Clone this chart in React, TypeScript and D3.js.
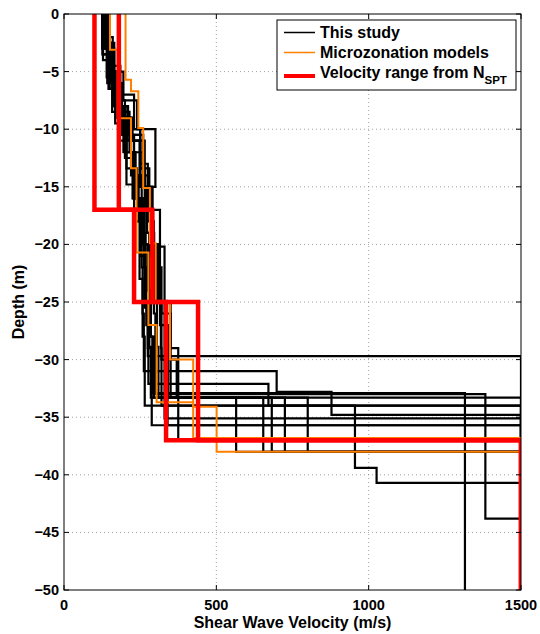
import React from 'react';
import * as d3 from 'd3';

// ---- Data ----
const xTicks = [0, 500, 1000, 1500];
const yTicks = [0, -5, -10, -15, -20, -25, -30, -35, -40, -45, -50];
const xGrid = [500, 1000];
const yGrid = [-5, -10, -15, -20, -25, -30, -35, -40, -45];

// Velocity range from N_SPT (layer bottoms in m, Vs in m/s)
const redMinDepths = [17, 25, 37, 50];
const redMinVs = [100, 230, 335, 1500];
const redMaxDepths = [17, 25, 37, 50];
const redMaxVs = [180, 290, 440, 1500];

// Microzonation models
const orangeADepths = [3.1, 9.06, 13.4, 20.7, 27.0, 33.7, 34.1, 38.0, 50];
const orangeAVs = [151, 176, 220, 238, 277, 304, 424, 501, 1500];
const orangeBDepths = [5.7, 6.7, 9.9, 15.1, 19.9, 25, 30, 36.8, 50];
const orangeBVs = [202, 220, 244, 260, 282, 301, 348, 424, 1500];

// This study: layer bottoms (m)
const studyDepths = [
  [2.5, 4.5, 7, 9.5, 12, 16, 21, 25.5, 29.7, 50],
  [3, 5.5, 8, 10.5, 14, 18, 22, 26, 31, 32.8, 34.8, 50],
  [2, 5, 7.5, 10, 13.4, 17, 22, 27, 32.1, 34, 50],
  [3, 6, 8.5, 11, 15, 19, 24, 28, 32.9, 50],
  [2.8, 5.9, 8, 10.5, 13.4, 17, 21, 26, 33, 43.8, 50],
  [4, 6.5, 9, 12, 16, 20, 25, 29, 33.3, 38, 50],
  [3, 6, 9, 11, 15, 20.2, 25, 28.9, 33.3, 38, 50],
  [2.5, 5, 8, 10, 15, 20, 24, 29, 34, 39.4, 40.7, 50],
  [3.5, 6, 8.5, 11, 14.8, 18, 23, 28, 34, 50],
  [2, 4.5, 7, 10, 13, 17, 20.2, 25, 30, 35.1, 50],
  [3, 5.9, 8, 10.5, 14, 19, 24, 28.9, 35.7, 50],
  [2.5, 5, 7.5, 10, 13.4, 17, 20.2, 25, 30, 35.7, 50],
  [3, 6, 9, 12, 16, 20, 25, 30, 33.3, 38, 50],
  [2.8, 5.5, 8, 10.5, 14, 18, 22, 26, 30, 33.3, 38, 50],
  [3, 6, 9, 12, 15, 20, 25, 29, 37, 50],
  [2.5, 5, 8, 11, 15, 19, 23, 27, 33.3, 38, 50],
  [3.5, 6.5, 9.5, 12.5, 16, 20, 24, 28, 33.3, 50],
];
// This study: layer velocities (m/s)
const studyVs = [
  [130, 145, 160, 185, 215, 235, 250, 265, 275, 1500],
  [125, 140, 165, 190, 230, 245, 255, 258, 262, 698, 878, 1500],
  [140, 150, 175, 200, 205, 240, 262, 270, 277, 671, 1500],
  [145, 160, 180, 215, 250, 270, 280, 285, 290, 1316],
  [135, 155, 175, 210, 250, 265, 285, 295, 300, 1383, 1500],
  [128, 150, 170, 195, 225, 250, 265, 275, 285, 565, 1500],
  [150, 165, 190, 225, 265, 290, 300, 305, 310, 654, 1500],
  [132, 148, 170, 200, 300, 282, 315, 318, 320, 955, 1026, 1500],
  [126, 142, 158, 180, 205, 230, 248, 258, 265, 1500],
  [148, 160, 185, 230, 250, 275, 292, 305, 320, 330, 1500],
  [138, 152, 165, 195, 220, 255, 268, 280, 288, 1500],
  [142, 165, 195, 240, 250, 280, 315, 330, 335, 340, 1500],
  [135, 158, 178, 205, 232, 262, 290, 330, 350, 725, 1500],
  [130, 150, 172, 210, 260, 275, 295, 320, 350, 370, 800, 1500],
  [145, 160, 182, 220, 258, 290, 310, 350, 375, 1500],
  [136, 155, 176, 208, 248, 272, 296, 315, 342, 682, 1500],
  [128, 146, 168, 200, 228, 258, 275, 285, 295, 1500],
];

const W = 540;
const H = 634;
const left = 64, right = 521, top = 14, bottom = 590;
const FONT = '"Liberation Sans", Arial, Helvetica, sans-serif';

const x = d3.scaleLinear().domain([0, 1500]).range([left, right]);
const y = d3.scaleLinear().domain([-50, 0]).range([bottom, top]);

function stepPath(depths: number[], vs: number[]): string {
  const pts: [number, number][] = [];
  pts.push([vs[0], 0]);
  for (let i = 0; i < depths.length; i++) {
    pts.push([vs[i], -depths[i]]);
    if (i + 1 < vs.length) pts.push([vs[i + 1], -depths[i]]);
  }
  const line = d3.line<[number, number]>().x((d) => x(d[0])).y((d) => y(d[1]));
  return line(pts) || '';
}

export default function App() {
  const fmt = (v: number) => (v < 0 ? '\u2212' + Math.abs(v) : String(v));
  return (
    <svg width={W} height={H} style={{ position: 'absolute', left: 0, top: 0, background: '#fff' }}>
      <defs>
        <clipPath id="plotClip">
          <rect x={left} y={top} width={right - left} height={bottom - top} />
        </clipPath>
      </defs>
      <rect x={0} y={0} width={W} height={H} fill="#fff" />
      {/* grid */}
      {xGrid.map((g) => (
        <line key={'xg' + g} x1={x(g)} x2={x(g)} y1={top} y2={bottom} stroke="#888" strokeWidth={0.8} strokeDasharray="1,3" />
      ))}
      {yGrid.map((g) => (
        <line key={'yg' + g} x1={left} x2={right} y1={y(g)} y2={y(g)} stroke="#888" strokeWidth={0.8} strokeDasharray="1,3" />
      ))}
      <g clipPath="url(#plotClip)" fill="none" strokeLinejoin="miter" strokeLinecap="butt">
        {studyDepths.map((d, i) => (
          <path key={'s' + i} d={stepPath(d, studyVs[i])} stroke="#000" strokeWidth={2.2} />
        ))}
        <path d={stepPath(orangeADepths, orangeAVs)} stroke="#ff8000" strokeWidth={2} />
        <path d={stepPath(orangeBDepths, orangeBVs)} stroke="#ff8000" strokeWidth={2} />
        <path d={stepPath(redMinDepths, redMinVs)} stroke="#ff0000" strokeWidth={4.5} />
        <path d={stepPath(redMaxDepths, redMaxVs)} stroke="#ff0000" strokeWidth={4.5} />
      </g>
      {/* axes box */}
      <rect x={left} y={top} width={right - left} height={bottom - top} fill="none" stroke="#000" strokeWidth={1} />
      {/* ticks */}
      {xTicks.map((t) => (
        <g key={'xt' + t}>
          <line x1={x(t)} x2={x(t)} y1={bottom} y2={bottom - 5} stroke="#000" />
          <line x1={x(t)} x2={x(t)} y1={top} y2={top + 5} stroke="#000" />
          <text x={x(t)} y={610} textAnchor="middle" fontFamily={FONT} fontWeight="bold" fontSize={14.5}>
            {fmt(t)}
          </text>
        </g>
      ))}
      {yTicks.map((t) => (
        <g key={'yt' + t}>
          <line x1={left} x2={left + 5} y1={y(t)} y2={y(t)} stroke="#000" />
          <line x1={right} x2={right - 5} y1={y(t)} y2={y(t)} stroke="#000" />
          <text x={59} y={y(t) + 5} textAnchor="end" fontFamily={FONT} fontWeight="bold" fontSize={14.5}>
            {fmt(t)}
          </text>
        </g>
      ))}
      <text x={(left + right) / 2} y={628} textAnchor="middle" fontFamily={FONT} fontWeight="bold" fontSize={16}>
        Shear Wave Velocity (m/s)
      </text>
      <text
        transform={`translate(24, ${(top + bottom) / 2}) rotate(-90)`}
        textAnchor="middle"
        fontFamily={FONT}
        fontWeight="bold"
        fontSize={16}
      >
        Depth (m)
      </text>
      {/* legend */}
      <rect x={277} y={20} width={239} height={70} fill="#fff" stroke="#000" strokeWidth={1} />
      <line x1={284} x2={315} y1={32.5} y2={32.5} stroke="#000" strokeWidth={1.5} />
      <line x1={284} x2={315} y1={52.5} y2={52.5} stroke="#ff8000" strokeWidth={1.5} />
      <line x1={284} x2={315} y1={76} y2={76} stroke="#ff0000" strokeWidth={4} />
      <text x={320} y={38} fontFamily={FONT} fontWeight="bold" fontSize={16}>This study</text>
      <text x={320} y={58} fontFamily={FONT} fontWeight="bold" fontSize={16}>Microzonation models</text>
      <text x={320} y={77.5} fontFamily={FONT} fontWeight="bold" fontSize={16}>
        Velocity range from N
        <tspan dy={6} fontSize={11.5}>SPT</tspan>
      </text>
    </svg>
  );
}
